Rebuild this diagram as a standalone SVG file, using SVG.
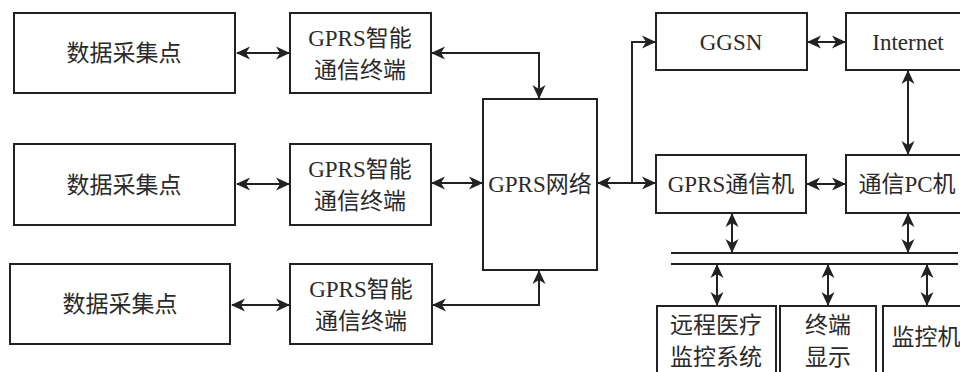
<svg xmlns="http://www.w3.org/2000/svg" width="960" height="372" viewBox="0 0 960 372">
<defs>
<style>
.box{fill:#fff;stroke:#222;stroke-width:2}
.t{font-family:"Liberation Serif","Noto Sans CJK SC",serif;font-size:23px;fill:#2a2a2a;text-anchor:middle}
.c{fill:none;stroke:#222;stroke-width:2}
.a2{marker-start:url(#ah);marker-end:url(#ah)}
.a1{marker-end:url(#ah)}
</style>
<marker id="ah" markerUnits="userSpaceOnUse" markerWidth="14" markerHeight="14" viewBox="0 0 14 14" refX="13" refY="7" orient="auto-start-reverse">
<path d="M0,0.5 L14,7 L0,13.5 L4,7 Z" fill="#222"/>
</marker>
</defs>
<rect width="960" height="372" fill="#fff"/>
<g id="n-dp1"><rect class="box" x="14" y="13" width="221" height="80"/><text class="t" x="124" y="61">数据采集点</text></g>
<g id="n-dp2"><rect class="box" x="14" y="144" width="221" height="81"/><text class="t" x="124" y="193">数据采集点</text></g>
<g id="n-dp3"><rect class="box" x="10" y="264" width="220" height="80"/><text class="t" x="120" y="312">数据采集点</text></g>
<g id="n-gt1"><rect class="box" x="290" y="13" width="141" height="80"/><text class="t" x="360" y="46">GPRS智能</text><text class="t" x="360" y="78">通信终端</text></g>
<g id="n-gt2"><rect class="box" x="290" y="144" width="141" height="81"/><text class="t" x="360" y="177">GPRS智能</text><text class="t" x="360" y="209">通信终端</text></g>
<g id="n-gt3"><rect class="box" x="290" y="264" width="142" height="80"/><text class="t" x="361" y="297">GPRS智能</text><text class="t" x="361" y="329">通信终端</text></g>
<g id="n-net"><rect class="box" x="483" y="99" width="114" height="171"/><text class="t" x="540" y="192">GPRS网络</text></g>
<g id="n-ggsn"><rect class="box" x="656" y="13" width="151" height="57"/><text class="t" x="731" y="50">GGSN</text></g>
<g id="n-inet"><rect class="box" x="846" y="13" width="130" height="57"/><text class="t" x="908" y="50">Internet</text></g>
<g id="n-gcm"><rect class="box" x="656" y="155" width="150" height="58"/><text class="t" x="731" y="192">GPRS通信机</text></g>
<g id="n-pc"><rect class="box" x="846" y="155" width="130" height="58"/><text class="t" x="907" y="192">通信PC机</text></g>
<g id="n-med"><rect class="box" x="657" y="306" width="119" height="80"/><text class="t" x="716" y="333">远程医疗</text><text class="t" x="716" y="365">监控系统</text></g>
<g id="n-disp"><rect class="box" x="780" y="306" width="96" height="80"/><text class="t" x="828" y="333">终端</text><text class="t" x="828" y="365">显示</text></g>
<g id="n-mon"><rect class="box" x="883" y="306" width="100" height="80"/><text class="t" x="926" y="345">监控机</text></g>
<g id="connectors">
<line class="c a2" x1="237" y1="53" x2="289" y2="53"/>
<line class="c a2" x1="237" y1="184" x2="289" y2="184"/>
<line class="c a2" x1="232" y1="305" x2="289" y2="305"/>
<polyline class="c a2" points="432,53 539,53 539,98"/>
<line class="c a2" x1="432" y1="183" x2="482" y2="183"/>
<polyline class="c a2" points="433,305 539,305 539,271"/>
<line class="c a2" x1="598" y1="183" x2="655" y2="183"/>
<polyline class="c a1" points="632,183 632,42 655,42"/>
<line class="c a2" x1="808" y1="42" x2="845" y2="42"/>
<line class="c a2" x1="807" y1="184" x2="845" y2="184"/>
<line class="c a2" x1="908" y1="71" x2="908" y2="154"/>
<line class="c a2" x1="732" y1="214" x2="732" y2="252"/>
<line class="c a2" x1="908" y1="214" x2="908" y2="252"/>
<line class="c" x1="671" y1="253" x2="958" y2="253"/>
<line class="c" x1="671" y1="264" x2="958" y2="264"/>
<line class="c a2" x1="717" y1="265" x2="717" y2="305"/>
<line class="c a2" x1="828" y1="265" x2="828" y2="305"/>
<line class="c a2" x1="927" y1="265" x2="927" y2="305"/>
</g>
</svg>
